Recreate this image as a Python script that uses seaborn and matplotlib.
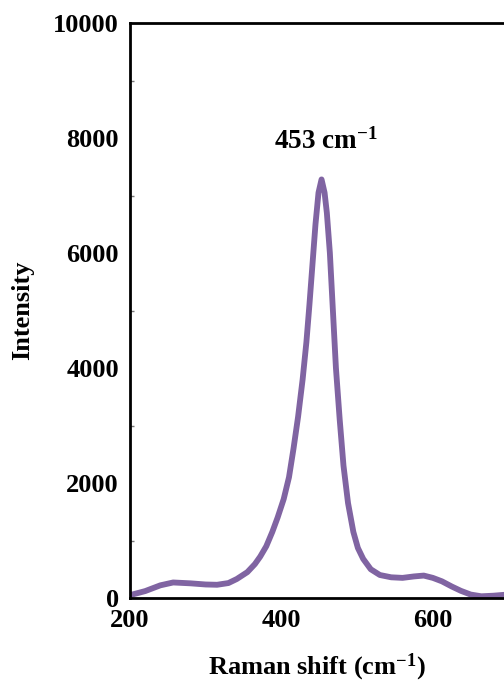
import matplotlib
matplotlib.use("Agg")
import matplotlib.pyplot as plt
import seaborn as sns
import pandas as pd
from matplotlib.ticker import MultipleLocator

raman_shift = [200, 220, 240, 257, 280, 300, 315, 330, 341, 355, 365, 372, 380, 388,
               395, 403, 410, 416, 422, 428, 433, 437, 441, 445, 449, 453, 457,
               460, 464, 468, 472, 477, 482, 488, 495, 501, 508, 518, 530, 545,
               560, 575, 588, 600, 612, 625, 637, 650, 664, 680, 694]
intensity = [50, 120, 220, 270, 255, 235, 230, 260, 330, 450, 590, 720, 900, 1150,
             1400, 1720, 2100, 2600, 3150, 3800, 4450, 5100, 5800, 6500, 7050, 7280, 7050,
             6700, 6000, 5000, 4000, 3100, 2300, 1650, 1150, 870, 680, 500, 400, 360,
             350, 375, 390, 350, 290, 200, 125, 60, 30, 40, 55]
x_ticks = [200, 400, 600]
y_ticks = [0, 2000, 4000, 6000, 8000, 10000]
peak_label = "453"

sns.set_theme(style="white")
plt.rcParams['font.family'] = ['Liberation Serif', 'DejaVu Serif']
plt.rcParams['text.color'] = 'black'
plt.rcParams['xtick.color'] = 'black'
plt.rcParams['ytick.color'] = 'black'
plt.rcParams['axes.labelcolor'] = 'black'
plt.rcParams['mathtext.fontset'] = 'custom'
plt.rcParams['mathtext.rm'] = 'Liberation Serif:bold'
plt.rcParams['mathtext.bf'] = 'Liberation Serif:bold'
plt.rcParams['mathtext.it'] = 'Liberation Serif:bold'

fig = plt.figure(figsize=(5.04, 6.91), dpi=100)
ax = fig.add_axes([130/504, 93/691, 1 - 130/504, (598 - 23)/691])

df = pd.DataFrame({"shift": raman_shift, "intensity": intensity})
sns.lineplot(data=df, x="shift", y="intensity", ax=ax, color="#8064A2",
             linewidth=4.2, solid_capstyle="round", solid_joinstyle="round")

ax.set_xlim(200, 694)
ax.set_ylim(0, 10000)
ax.set_xticks(x_ticks)
ax.set_yticks(y_ticks)
ax.yaxis.set_minor_locator(MultipleLocator(1000))
ax.tick_params(axis='both', which='major', direction='out', length=5, width=1,
               color='#555555', labelsize=19, pad=3)
ax.tick_params(axis='y', which='minor', direction='in', length=3, width=1,
               color='#777777', left=True)
for lab in ax.get_xticklabels() + ax.get_yticklabels():
    lab.set_fontweight('bold')

for s in ['left', 'bottom', 'top']:
    ax.spines[s].set_visible(True)
    ax.spines[s].set_color('black')
    ax.spines[s].set_linewidth(2)
ax.spines['right'].set_visible(False)

ax.set_xlabel(r"Raman shift (cm$^{-1}$)", fontsize=19, fontweight='bold', labelpad=14)
ax.set_ylabel("Intensity", fontsize=19, fontweight='bold', labelpad=14)

ax.text(458, 7950, peak_label + r" cm$^{-1}$", fontsize=19.5, fontweight='bold',
        ha='center', va='center')

fig.savefig("out.png", dpi=100)
